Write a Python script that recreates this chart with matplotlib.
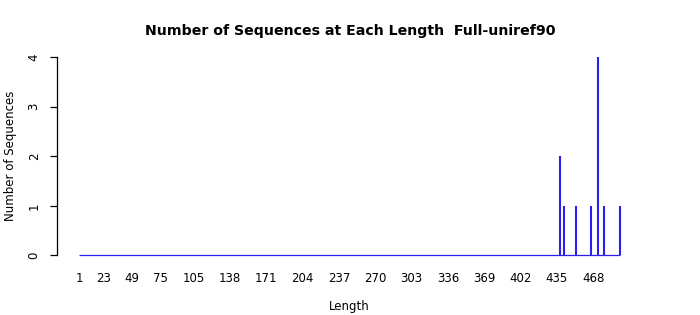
import matplotlib
matplotlib.use("Agg")
import matplotlib.pyplot as plt

# lengths with at least one sequence (all others are zero)
seq_lengths = [438, 441, 452, 466, 472, 478, 492]
seq_counts = [2, 1, 1, 1, 4, 1, 1]
min_length = 1
max_length = 492

x_ticks = [1, 23, 49, 75, 105, 138, 171, 204, 237, 270, 303, 336, 369, 402, 435, 468]
y_ticks = [0, 1, 2, 3, 4]

fig = plt.figure(figsize=(7, 3.15), dpi=100)
ax = fig.add_axes([0.0819, 0.1644, 0.8344, 0.6788])

line_color = "#2a1ff0"
ax.hlines(0, min_length, max_length, color=line_color, lw=0.9)
ax.vlines(seq_lengths, 0, seq_counts, color=line_color, lw=1.5)

# R style axis padding of 4%
span = max_length - min_length
ax.set_xlim(min_length - 0.04 * span, max_length + 0.04 * span)
ax.set_ylim(-0.16, 4.16)

for s in ["top", "right", "bottom"]:
    ax.spines[s].set_visible(False)
ax.spines["left"].set_bounds(0, 4)
ax.spines["left"].set_linewidth(0.9)

ax.set_xticks(x_ticks)
ax.set_xticklabels([str(v) for v in x_ticks], fontsize=8.5)
ax.tick_params(axis="x", length=0, pad=6)

ax.set_yticks(y_ticks)
ax.set_yticklabels([str(v) for v in y_ticks], fontsize=8.5, rotation=90, va="center")
ax.tick_params(axis="y", length=5, width=0.9, pad=7)

ax.set_xlabel("Length", fontsize=8.5, labelpad=11)
ax.set_ylabel("Number of Sequences", fontsize=8.5, labelpad=8)
fig.suptitle("Number of Sequences at Each Length  Full-uniref90",
             fontsize=10.2, fontweight="bold", y=0.925)

fig.savefig("out.png", dpi=100)
